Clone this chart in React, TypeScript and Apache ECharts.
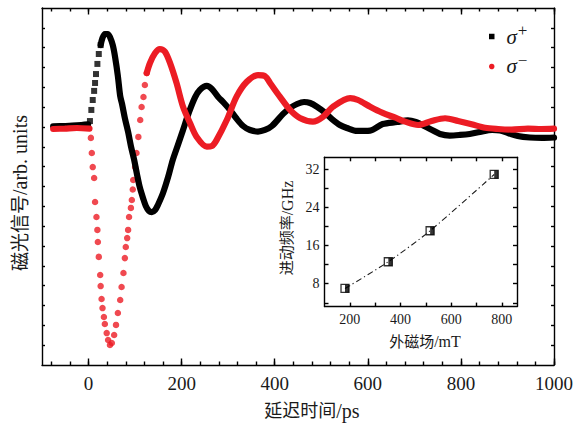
import React, { useEffect, useRef } from "react";
import * as echarts from "echarts";

// Main panel: delay time (ps) vs. magneto-optical signal (arb. units)
const blackBaseline: number[][] = [[-76, 3.03], [-51, 3.05], [-25, 3.08], [-1, 3.13]];
const blackRise: number[][] = [[3, 3.3], [6, 3.86], [9, 4.36], [12, 4.82], [14, 5.22], [16, 5.67], [19, 6.18], [22, 6.68], [26, 7.13]];
const blackTrace: number[][] = [
  [26, 7.13], [30, 7.49], [35, 7.69], [41, 7.69], [46, 7.54], [52, 7.13], [57, 6.53], [63, 5.57], [68, 4.56], [72, 4.16],
  [78, 3.45], [85, 2.75], [91, 2.04], [98, 1.34], [104, 0.63], [110, -0.03], [117, -0.58], [123, -0.98], [130, -1.24],
  [136, -1.29], [143, -1.18], [149, -0.93], [160, -0.33], [171, 0.48], [181, 1.34], [192, 2.09], [203, 2.85], [216, 3.76],
  [229, 4.51], [239, 4.87], [254, 5.07], [265, 4.92], [278, 4.53], [291, 4.21], [304, 3.86], [317, 3.45], [332, 3.05],
  [347, 2.85], [364, 2.77], [379, 2.85], [394, 3.05], [418, 3.66], [433, 3.96], [448, 4.16], [463, 4.26], [476, 4.21],
  [491, 4.02], [506, 3.76], [523, 3.4], [540, 3.1], [555, 2.95], [577, 2.8], [605, 2.82], [632, 3.15], [663, 3.25],
  [686, 3.33], [703, 3.25], [721, 3.05], [738, 2.85], [755, 2.65], [776, 2.57], [798, 2.6], [819, 2.65], [841, 2.75],
  [867, 2.85], [884, 2.82], [901, 2.7], [922, 2.55], [948, 2.47], [974, 2.45], [1000, 2.47],
];
const redBaseline: number[][] = [[-76, 2.9], [-51, 2.92], [-25, 2.95], [2, 2.92]];
const redDots: number[][] = [
  [5, 2.45], [7, 1.69], [9, 0.98], [12, 0.43], [14, -0.78], [17, -1.54], [19, -2.19], [20, -2.8], [22, -3.55],
  [25, -4.46], [26, -5.02], [28, -5.67], [30, -6.13], [33, -6.58], [35, -6.93], [39, -7.39], [42, -7.74], [46, -7.99],
  [50, -7.89], [55, -7.49], [59, -6.98], [63, -6.38], [68, -5.72], [71, -5.07], [75, -4.36], [78, -3.61], [80, -3.05],
  [83, -2.6], [85, -2.19], [87, -1.54], [91, -1.08], [93, -0.68], [95, -0.15], [96, 0.33], [100, 0.98], [103, 1.69],
  [107, 2.5], [111, 3.35], [114, 4.01], [118, 4.51], [121, 5.12], [125, 5.72],
];
const redTrace: number[][] = [
  [125, 5.72], [132, 6.23], [143, 6.73], [153, 6.93], [164, 6.8], [175, 6.23], [189, 5.22], [203, 4.02], [218, 3.2],
  [232, 2.51], [254, 2.01], [265, 2.04], [275, 2.34], [297, 3.35], [318, 4.53], [340, 5.28], [364, 5.62], [379, 5.57],
  [390, 5.22], [411, 4.53], [433, 3.86], [454, 3.45], [482, 3.27], [504, 3.52], [525, 4.02], [562, 4.46], [579, 4.36],
  [605, 4.02], [632, 3.71], [658, 3.48], [680, 3.27], [708, 3.1], [737, 3.3], [766, 3.44], [794, 3.3], [823, 3.14],
  [852, 2.96], [880, 2.9], [909, 2.87], [944, 2.92], [973, 2.9], [1000, 2.92],
];
const timeMajorTicks = [0, 200, 400, 600, 800, 1000];
const timeMinorTicks = [-80, -40, 0, 40, 80, 120, 160, 200, 240, 280, 320, 360, 400, 440, 480, 520, 560, 600, 640, 680, 720, 760, 800, 840, 880, 920, 960, 1000];
const signalTicks = [-8, -7, -6, -5, -4, -3, -2, -1, 0, 1, 2, 3, 4, 5, 6, 7, 8];

// Inset: external field (mT) vs. precession frequency (GHz)
const fieldMT = [181, 352, 517, 770];
const freqGHz = [7.0, 12.6, 19.1, 30.9];
const fieldTicks = [200, 300, 400, 500, 600, 700, 800];
const fieldLabels = [200, 400, 600, 800];
const freqTicks = [4, 8, 12, 16, 20, 24, 28, 32];
const freqLabels = [8, 16, 24, 32];

const SERIF = "'Liberation Serif', 'Noto Sans CJK SC', serif";
const INK = "#1a1a1a";
const RED = "#ec1c24";

export default function App() {
  const ref = useRef<HTMLDivElement>(null);
  useEffect(() => {
    if (!ref.current) return;
    const chart = echarts.init(ref.current, undefined, { renderer: "svg" });
    const line = { color: "#000", width: 1.4 };
    const plain = (v: number) => String(v);
    const mkX = (grid: number, pos: string, min: number, max: number, ticks: number[], len: number, labels: number[] | null, showLine: boolean, fs: number, margin: number) => ({
      type: "value", gridIndex: grid, position: pos, min, max,
      axisLine: { show: showLine, onZero: false, lineStyle: line },
      axisTick: { show: true, inside: true, length: len, customValues: ticks, lineStyle: line },
      axisLabel: labels ? { show: true, customValues: labels, formatter: plain, fontSize: fs, fontFamily: SERIF, color: INK, margin } : { show: false },
      splitLine: { show: false },
    });
    const mkY = (grid: number, pos: string, min: number, max: number, ticks: number[], len: number, labels: number[] | null, fs: number, margin: number) => ({
      type: "value", gridIndex: grid, position: pos, min, max,
      axisLine: { show: true, onZero: false, lineStyle: line },
      axisTick: { show: true, inside: true, length: len, customValues: ticks, lineStyle: line },
      axisLabel: labels ? { show: true, customValues: labels, formatter: plain, fontSize: fs, fontFamily: SERIF, color: INK, margin } : { show: false },
      splitLine: { show: false },
    });
    const option: any = {
      animation: false,
      backgroundColor: "#fff",
      grid: [
        { left: 42, top: 8, width: 512, height: 357 },
        { left: 324.5, top: 157.3, width: 192.5, height: 149.3 },
      ],
      xAxis: [
        mkX(0, "bottom", -100, 1000, timeMajorTicks, 6.5, timeMajorTicks, true, 19, 9),
        mkX(0, "bottom", -100, 1000, timeMinorTicks, 3.5, null, false, 19, 9),
        mkX(0, "top", -100, 1000, timeMajorTicks, 6.5, null, true, 19, 9),
        mkX(0, "top", -100, 1000, timeMinorTicks, 3.5, null, false, 19, 9),
        mkX(1, "bottom", 100, 860, fieldTicks, 4, fieldLabels, true, 14, 6),
        mkX(1, "top", 100, 860, fieldTicks, 4, null, true, 14, 6),
      ],
      yAxis: [
        mkY(0, "left", -9, 9, signalTicks, 3, null, 14, 6),
        mkY(0, "right", -9, 9, signalTicks, 3, null, 14, 6),
        mkY(1, "left", 3.2, 34.5, freqTicks, 4, freqLabels, 14, 5),
        mkY(1, "right", 3.2, 34.5, freqTicks, 4, null, 14, 5),
      ],
      legend: {
        show: true,
        orient: "vertical",
        left: 484,
        top: 17,
        itemWidth: 5.5,
        itemHeight: 5.5,
        itemGap: 5,
        data: [
          { name: "σ+", icon: "rect" },
          { name: "σ−", icon: "circle" },
        ],
        formatter: (n: string) => (n === "σ+" ? "{s|σ}{p|+}" : "{s|σ}{p|−}"),
        textStyle: {
          padding: [0, 0, 0, 7],
          rich: {
            s: { fontFamily: SERIF, fontStyle: "italic", fontSize: 21, color: INK },
            p: { fontFamily: SERIF, fontSize: 17, color: INK, padding: [0, 0, 12, 1] },
          },
        },
      },
      series: [
        { name: "σ+", type: "line", xAxisIndex: 0, yAxisIndex: 0, data: blackBaseline, showSymbol: false, smooth: 0.3, color: "#000", lineStyle: { width: 6.2, color: "#000", cap: "round" } },
        { name: "σ+", type: "scatter", xAxisIndex: 0, yAxisIndex: 0, data: blackRise, symbol: "rect", symbolSize: 6, itemStyle: { color: "#000" } },
        { name: "σ+", type: "line", xAxisIndex: 0, yAxisIndex: 0, data: blackTrace, showSymbol: false, smooth: 0.3, color: "#000", lineStyle: { width: 6.2, color: "#000", cap: "round", join: "round" } },
        { name: "σ−", type: "line", xAxisIndex: 0, yAxisIndex: 0, data: redBaseline, showSymbol: false, smooth: 0.3, color: RED, lineStyle: { width: 6.2, color: RED, cap: "round" } },
        { name: "σ−", type: "scatter", xAxisIndex: 0, yAxisIndex: 0, data: redDots, symbol: "circle", symbolSize: 6.5, itemStyle: { color: RED } },
        { name: "σ−", type: "line", xAxisIndex: 0, yAxisIndex: 0, data: redTrace, showSymbol: false, smooth: 0.3, color: RED, lineStyle: { width: 6.2, color: RED, cap: "round", join: "round" } },
        {
          name: "fit", type: "line", xAxisIndex: 4, yAxisIndex: 2,
          data: fieldMT.map((x, i) => [x, freqGHz[i]]),
          showSymbol: false, smooth: 0.25,
          lineStyle: { width: 1.1, color: INK, type: [6, 3, 1.2, 3] },
        },
        {
          name: "freq", type: "scatter", xAxisIndex: 4, yAxisIndex: 2,
          data: fieldMT.map((x, i) => [x, freqGHz[i]]),
          symbol: "rect", symbolSize: 8,
          itemStyle: { color: "#fff", borderColor: "#000", borderWidth: 1.3 },
        },
        {
          name: "freqFill", type: "scatter", xAxisIndex: 4, yAxisIndex: 2,
          data: fieldMT.map((x, i) => [x, freqGHz[i]]),
          symbol: "rect", symbolSize: [4, 8], symbolOffset: [2, 0],
          itemStyle: { color: "#000" }, z: 3,
        },
      ],
      graphic: [
        {
          type: "text", x: 20, y: 193, rotation: Math.PI / 2,
          style: {
            text: "{c|磁光信号}{l|/arb. units}", align: "center", verticalAlign: "middle",
            rich: {
              c: { fontFamily: SERIF, fontSize: 19, fill: INK },
              l: { fontFamily: SERIF, fontSize: 20, fill: INK },
            },
          },
        },
        {
          type: "text", x: 312, y: 411,
          style: {
            text: "{c|延迟时间}{l|/ps}", align: "center", verticalAlign: "middle",
            rich: {
              c: { fontFamily: SERIF, fontSize: 18, fill: INK },
              l: { fontFamily: SERIF, fontSize: 20, fill: INK },
            },
          },
        },
        {
          type: "text", x: 287, y: 228, rotation: Math.PI / 2,
          style: {
            text: "{c|进动频率}{l|/GHz}", align: "center", verticalAlign: "middle",
            rich: {
              c: { fontFamily: SERIF, fontSize: 15, fill: INK },
              l: { fontFamily: SERIF, fontSize: 16, fill: INK },
            },
          },
        },
        {
          type: "text", x: 425, y: 341.5,
          style: {
            text: "{c|外磁场}{l|/mT}", align: "center", verticalAlign: "middle",
            rich: {
              c: { fontFamily: SERIF, fontSize: 15, fill: INK },
              l: { fontFamily: SERIF, fontSize: 16, fill: INK },
            },
          },
        },
      ],
    };
    chart.setOption(option);
    return () => chart.dispose();
  }, []);
  return (
    <div
      ref={ref}
      style={{ position: "fixed", left: 0, top: 0, width: 586, height: 425, background: "#fff" }}
    />
  );
}
